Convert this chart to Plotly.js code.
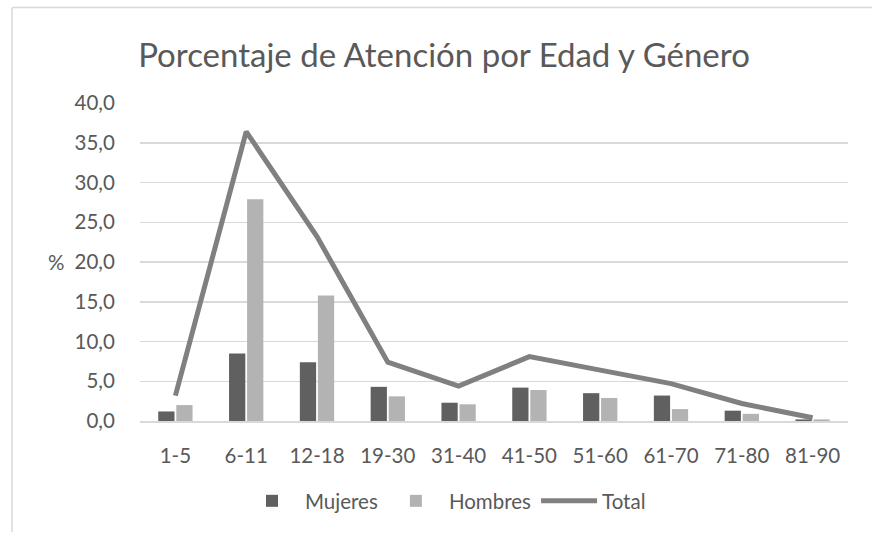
<!DOCTYPE html>
<html>
<head>
<meta charset="utf-8">
<script src="https://cdn.plot.ly/plotly-3.0.1.min.js"></script>
<style>
  html, body { margin: 0; padding: 0; background: #ffffff; }
  #chart { width: 872px; height: 534px; }
</style>
</head>
<body>
<div id="chart"></div>
<script>
const categories = ["1-5", "6-11", "12-18", "19-30", "31-40", "41-50", "51-60", "61-70", "71-80", "81-90"];
const mujeres = [1.2, 8.5, 7.4, 4.3, 2.3, 4.2, 3.5, 3.2, 1.3, 0.2];
const hombres = [2.0, 27.9, 15.8, 3.1, 2.1, 3.9, 2.9, 1.5, 0.9, 0.2];
const total   = [3.2, 36.4, 23.2, 7.4, 4.4, 8.1, 6.4, 4.7, 2.2, 0.4];
const yTicks  = [0, 5, 10, 15, 20, 25, 30, 35, 40];
const yTickText = ["0,0", "5,0", "10,0", "15,0", "20,0", "25,0", "30,0", "35,0", "40,0"];

const textColor = "#595959";
const fontFam = "Lato, 'Open Sans', 'Liberation Sans', sans-serif";
const tickSize = 20.5;

const traces = [
  { type: "bar", name: "Mujeres", x: categories, y: mujeres,
    marker: { color: "#606060" }, hoverinfo: "x+y+name" },
  { type: "bar", name: "Hombres", x: categories, y: hombres,
    marker: { color: "#b3b3b3" }, hoverinfo: "x+y+name" },
  { type: "scatter", mode: "lines", name: "Total", x: categories, y: total,
    line: { color: "#808080", width: 5 }, hoverinfo: "x+y+name" }
];

// plot area: x 140..848, y 103..421 (pixels)
const L = 140, R = 848, T = 103, B = 421;
const px = v => (v - L) / (R - L);
const py = v => (B - v) / (B - T);

const layout = {
  width: 872, height: 534,
  margin: { l: L, r: 872 - R, t: T, b: 534 - B, pad: 0 },
  paper_bgcolor: "#ffffff", plot_bgcolor: "#ffffff",
  font: { family: fontFam, color: textColor, size: tickSize },
  title: { text: "Porcentaje de Atención por Edad y Género",
    font: { family: fontFam, size: 33, color: textColor },
    x: 444 / 872, xref: "container", xanchor: "center",
    y: 1 - 55 / 534, yref: "container", yanchor: "middle" },
  barmode: "group", bargap: 0.49, bargroupgap: 0.1,
  showlegend: true,
  legend: { orientation: "h", x: 445 / 872, xref: "container", xanchor: "center",
    y: 1 - 501 / 534, yref: "container", yanchor: "middle",
    font: { family: fontFam, size: 20.5, color: textColor },
    traceorder: "normal", itemwidth: 56 },
  xaxis: { type: "category", showgrid: false, showline: true, linecolor: "#d9d9d9", linewidth: 1.5,
    ticks: "outside", ticklen: 16, tickcolor: "rgba(0,0,0,0)",
    tickfont: { family: fontFam, size: tickSize, color: textColor }, fixedrange: true },
  yaxis: { range: [0, 40], tickvals: yTicks, ticktext: yTickText, showgrid: true,
    gridcolor: "#d9d9d9", gridwidth: 1.5, zeroline: false, showline: false,
    ticks: "outside", ticklen: 20, tickcolor: "rgba(0,0,0,0)",
    tickfont: { family: fontFam, size: tickSize, color: textColor }, fixedrange: true },
  annotations: [
    { text: "%", xref: "paper", yref: "y", x: px(56), y: 20, showarrow: false,
      xanchor: "center", yanchor: "middle", font: { family: fontFam, size: tickSize, color: textColor } }
  ],
  shapes: [
    { type: "line", xref: "paper", yref: "paper", x0: px(12), x1: px(880), y0: py(7.5), y1: py(7.5),
      line: { color: "#d9d9d9", width: 1.5 } },
    { type: "line", xref: "paper", yref: "paper", x0: px(12), x1: px(12), y0: py(7.5), y1: py(532),
      line: { color: "#d9d9d9", width: 1.5 } }
  ]
};

Plotly.newPlot("chart", traces, layout, { displayModeBar: false, staticPlot: true });
</script>
</body>
</html>
